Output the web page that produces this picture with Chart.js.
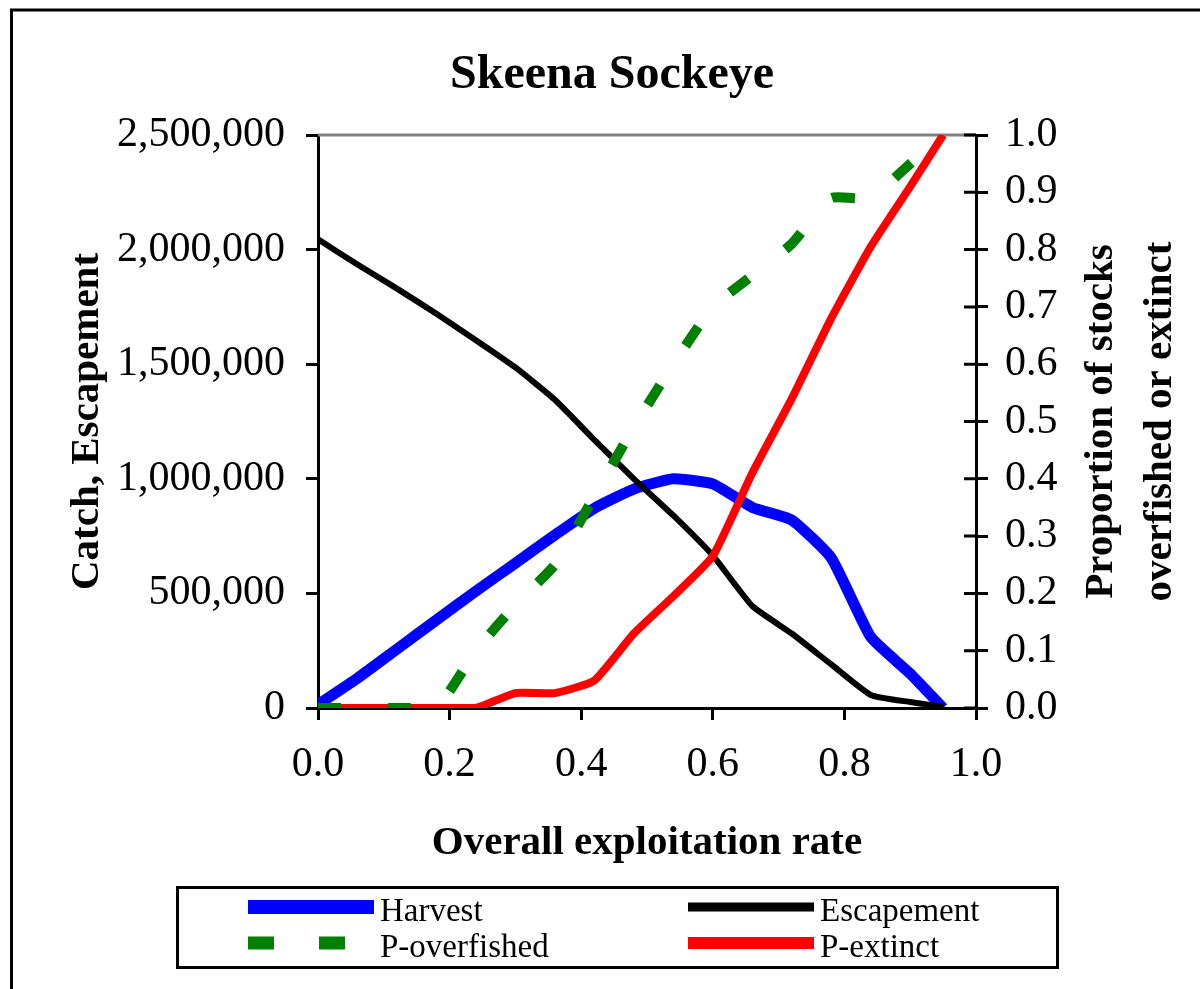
<!DOCTYPE html>
<html>
<head>
<meta charset="utf-8">
<title>Skeena Sockeye</title>
<script src="https://cdn.jsdelivr.net/npm/chart.js@4/dist/chart.umd.min.js"></script>
<style>
  html, body { margin: 0; padding: 0; background: #fff; overflow: hidden; }
  #wrap { position: absolute; left: 0; top: 0; width: 1224px; height: 989px; }
</style>
</head>
<body>
<div id="wrap"><canvas id="chart" width="1224" height="989"></canvas></div>
<script>
'use strict';

// exploitation rates along the x axis
const rates = [0, 0.06, 0.12, 0.18, 0.24, 0.30, 0.36, 0.42, 0.48, 0.54, 0.60, 0.66, 0.72, 0.78, 0.84, 0.90, 0.95];

// fish counts (left axis)
const harvest = [15000, 130000, 257000, 384000, 510000, 632000, 755000, 872000, 955000, 1000000, 978000, 875000, 820000, 655000, 310000, 150000, 0];
const escapement = [2045000, 1935000, 1830000, 1720000, 1605000, 1486000, 1345000, 1170000, 1000000, 840000, 665000, 445000, 325000, 190000, 57000, 26000, 5000];

// proportions (right axis)
const pOverfished = [0, 0, 0, 0, 0.10, 0.18, 0.25, 0.37, 0.49, 0.60, 0.70, 0.755, 0.81, 0.89, 0.89, 0.95, 1.0];
const pExtinct = [0, 0, 0, 0, 0, 0.026, 0.026, 0.048, 0.13, 0.195, 0.265, 0.41, 0.54, 0.68, 0.805, 0.91, 1.0];

// tick steps
const xTickStep = 0.2;
const countTickStep = 500000;
const propTickStep = 0.1;

const SERIF = '"Liberation Serif", "Times New Roman", Times, serif';
const pts = ys => rates.map((x, i) => ({ x, y: ys[i] }));

Chart.defaults.color = '#000';
Chart.defaults.font.family = SERIF;

// outer frame, top border of plot, inner half of right-axis ticks
const decorations = {
  id: 'decorations',
  beforeDatasetsDraw(chart) {
    const { ctx, chartArea: a } = chart;
    ctx.save();
    ctx.strokeStyle = '#808080';
    ctx.lineWidth = 3;
    ctx.beginPath();
    ctx.moveTo(a.left, a.top);
    ctx.lineTo(a.right, a.top);
    ctx.stroke();
    ctx.restore();
  },
  afterDraw(chart) {
    const { ctx, chartArea: a } = chart;
    const y1 = chart.scales.y1;
    ctx.save();
    ctx.strokeStyle = '#000';
    ctx.lineWidth = 3;
    ctx.beginPath();
    y1.ticks.forEach(t => {
      const py = y1.getPixelForValue(t.value);
      ctx.moveTo(a.right - 12, py);
      ctx.lineTo(a.right, py);
    });
    ctx.stroke();

    // frame
    ctx.beginPath();
    ctx.moveTo(11.5, chart.height);
    ctx.lineTo(11.5, 10);
    ctx.lineTo(chart.width, 10);
    ctx.stroke();

    // right axis title, two lines reading upward
    const cy = (a.top + a.bottom) / 2;
    ctx.font = 'bold 41px ' + SERIF;
    ctx.fillStyle = '#000';
    ctx.textAlign = 'center';
    ctx.textBaseline = 'middle';
    [['Proportion of stocks', 1101], ['overfished or extinct', 1160]].forEach(([txt, cx]) => {
      ctx.save();
      ctx.translate(cx, cy);
      ctx.rotate(-Math.PI / 2);
      ctx.fillText(txt, 0, 0);
      ctx.restore();
    });
    ctx.restore();
  }
};

// boxed two-column legend under the chart
const boxLegend = {
  id: 'boxLegend',
  afterDraw(chart) {
    const { ctx } = chart;
    const cols = [248, 688], rows = [907, 943], sample = 126;
    ctx.save();
    ctx.strokeStyle = '#000';
    ctx.lineWidth = 3;
    ctx.strokeRect(177.5, 887.5, 880, 80);
    ctx.font = '33px ' + SERIF;
    ctx.fillStyle = '#000';
    ctx.textBaseline = 'alphabetic';
    ctx.textAlign = 'left';
    chart.data.datasets.forEach((ds, i) => {
      const x = cols[i % 2], y = rows[Math.floor(i / 2)];
      ctx.save();
      ctx.strokeStyle = ds.borderColor;
      ctx.lineWidth = ds.legendLineWidth;
      ctx.lineCap = 'butt';
      ctx.setLineDash(ds.legendDash || []);
      ctx.beginPath();
      ctx.moveTo(x, y);
      ctx.lineTo(x + sample, y);
      ctx.stroke();
      ctx.restore();
      ctx.fillText(ds.label, x + sample + 6, y + 14);
    });
    ctx.restore();
  }
};

new Chart(document.getElementById('chart').getContext('2d'), {
  type: 'line',
  data: {
    datasets: [
      { label: 'Harvest', data: pts(harvest), yAxisID: 'y', borderColor: '#0000ff', borderWidth: 11, legendLineWidth: 14, order: 3 },
      { label: 'Escapement', data: pts(escapement), yAxisID: 'y', borderColor: '#000000', borderWidth: 6, legendLineWidth: 9, order: 2 },
      { label: 'P-overfished', data: pts(pOverfished), yAxisID: 'y1', borderColor: '#008000', borderWidth: 10, borderDash: [23, 47], borderCapStyle: 'butt', legendDash: [26, 45], legendLineWidth: 13, order: 0 },
      { label: 'P-extinct', data: pts(pExtinct), yAxisID: 'y1', borderColor: '#ff0000', borderWidth: 8, legendLineWidth: 12, order: 1 }
    ]
  },
  options: {
    responsive: false,
    animation: false,
    layout: { padding: { left: 0, right: 0, top: 0, bottom: 121 } },
    elements: { point: { radius: 0 }, line: { tension: 0.15, borderJoinStyle: 'round', fill: false } },
    plugins: {
      legend: { display: false },
      tooltip: { enabled: false },
      title: {
        display: true,
        text: 'Skeena Sockeye',
        color: '#000',
        font: { family: SERIF, size: 48, weight: 'bold' },
        padding: { top: 47, bottom: 30.4 }
      }
    },
    scales: {
      x: {
        type: 'linear', position: 'bottom', min: 0, max: 1,
        ticks: { stepSize: xTickStep, callback: v => Number(v).toFixed(1), font: { size: 42 }, padding: 20, maxRotation: 0, color: '#000' },
        grid: { drawOnChartArea: false, drawTicks: true, tickLength: 12, color: '#000', lineWidth: 3 },
        border: { display: true, color: '#000', width: 3 },
        title: { display: true, text: 'Overall exploitation rate', font: { size: 41, weight: 'bold' }, padding: { top: 0, bottom: 0 }, color: '#000' },
        afterFit: s => { s.height = 160; }
      },
      y: {
        type: 'linear', position: 'left', min: 0, max: 2500000,
        ticks: { stepSize: countTickStep, callback: v => Number(v).toLocaleString('en-US'), font: { size: 42 }, padding: 21, color: '#000' },
        grid: { drawOnChartArea: false, drawTicks: true, tickLength: 12, color: '#000', lineWidth: 3 },
        border: { display: true, color: '#000', width: 3 },
        title: { display: true, text: 'Catch, Escapement', font: { size: 41, weight: 'bold' }, padding: { top: 63, bottom: 0 }, color: '#000' },
        afterFit: s => { s.width = 318; }
      },
      y1: {
        type: 'linear', position: 'right', min: 0, max: 1,
        ticks: { stepSize: propTickStep, callback: v => Number(v).toFixed(1), font: { size: 42 }, padding: 17, color: '#000' },
        grid: { drawOnChartArea: false, drawTicks: true, tickLength: 12, color: '#000', lineWidth: 3 },
        border: { display: true, color: '#000', width: 3 },
        afterFit: s => { s.width = 1224 - 976; }
      }
    }
  },
  plugins: [decorations, boxLegend]
});
</script>
</body>
</html>
